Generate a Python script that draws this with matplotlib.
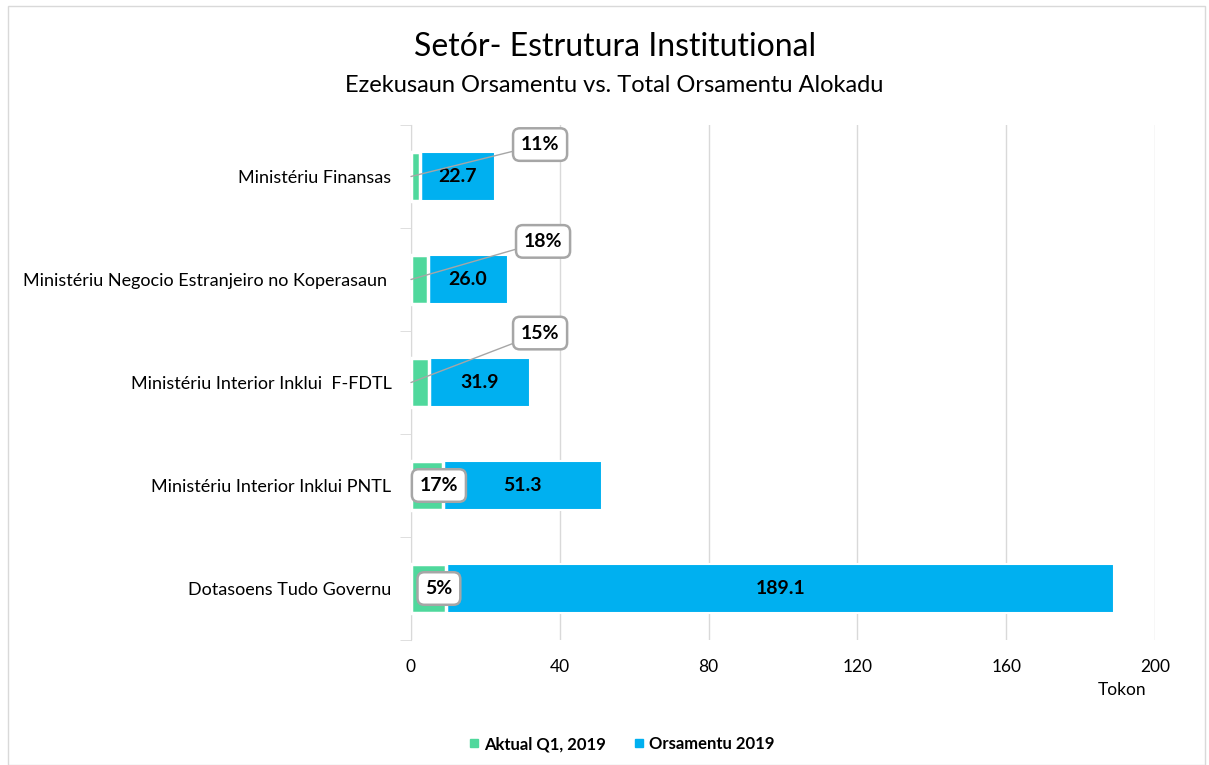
import matplotlib

matplotlib.use("Agg")

import matplotlib.pyplot as plt
from matplotlib.patches import Rectangle

plt.rcParams["font.family"] = ["Lato", "DejaVu Sans"]

CATEGORIES = [
    "Ministériu Finansas",
    "Ministériu Negocio Estranjeiro no Koperasaun ",
    "Ministériu Interior Inklui  F-FDTL",
    "Ministériu Interior Inklui PNTL",
    "Dotasoens Tudo Governu",
]
BUDGET = [22.7, 26.0, 31.9, 51.3, 189.1]
ACTUAL = [2.5, 4.7, 4.8, 8.7, 9.5]
X_TICKS = [0, 40, 80, 120, 160, 200]

GREEN = "#4FD89C"
BLUE = "#00B0F0"
GRID = "#D9D9D9"

fig = plt.figure(figsize=(12.09, 7.65), dpi=100)
ax = fig.add_axes([411 / 1209, 1 - 640 / 765, 744 / 1209, 515 / 765])

y = list(range(len(CATEGORIES)))
ax.barh(y, BUDGET, height=0.47, color=BLUE, edgecolor="white", linewidth=1.5, zorder=2)
ax.barh(y, ACTUAL, height=0.47, color=GREEN, edgecolor="white", linewidth=2.5, zorder=3)

ax.set_xlim(0, 200)
ax.set_ylim(len(CATEGORIES) - 0.5, -0.5)
ax.set_xticks(X_TICKS)
ax.set_xticklabels([str(t) for t in X_TICKS], fontsize=12.5)
ax.set_yticks(y)
ax.set_yticklabels(CATEGORIES, fontsize=13)
ax.set_yticks([i - 0.5 for i in range(len(CATEGORIES) + 1)], minor=True)
ax.tick_params(axis="y", which="major", length=0, pad=14)
ax.tick_params(axis="y", which="minor", length=8, color=GRID)
ax.tick_params(axis="x", length=0, pad=14)
ax.grid(axis="x", color=GRID, linewidth=1, zorder=0)
for side in ["top", "right", "bottom"]:
    ax.spines[side].set_visible(False)
ax.spines["left"].set_color(GRID)

# value labels in the blue segment
for i, (act, tot) in enumerate(zip(ACTUAL, BUDGET)):
    ax.text((act + tot) / 2, i, f"{tot:.1f}", ha="center", va="center",
            fontsize=14, fontweight="bold", color="black", zorder=5)

# percentage callouts
box_style = dict(boxstyle="round,pad=0.4,rounding_size=0.35", fc="white", ec="#A6A6A6", lw=1.8)
callout_pos = [(34.7, -0.31), (35.5, -0.37), (34.7, -0.48)]
for i, (act, tot) in enumerate(zip(ACTUAL, BUDGET)):
    label = f"{act / tot * 100:.0f}%"
    if i < len(callout_pos):
        bx, dy = callout_pos[i]
        ax.annotate(label, xy=(0, i), xytext=(bx, i + dy), ha="center", va="center",
                    fontsize=14, fontweight="bold", bbox=box_style, zorder=6,
                    arrowprops=dict(arrowstyle="-", color="#A6A6A6", lw=1, shrinkA=0, shrinkB=0),
                    annotation_clip=False)
    else:
        ax.text(7.5, i, label, ha="center", va="center", fontsize=14,
                fontweight="bold", bbox=box_style, zorder=6)

fig.text(1122 / 1209, 1 - 690 / 765, "Tokon", ha="center", va="center", fontsize=12.5)
fig.text(615 / 1209, 1 - 47 / 765, "Setór- Estrutura Institutional", ha="center",
         va="center", fontsize=23)
fig.text(614 / 1209, 1 - 86 / 765, "Ezekusaun Orsamentu vs. Total Orsamentu Alokadu",
         ha="center", va="center", fontsize=17)

handles = [
    plt.Line2D([], [], marker="s", linestyle="none", color=GREEN, markersize=6),
    plt.Line2D([], [], marker="s", linestyle="none", color=BLUE, markersize=6),
]
fig.legend(handles, ["Aktual Q1, 2019", "Orsamentu 2019"], loc="center",
           bbox_to_anchor=(621 / 1209, 1 - 744 / 765), ncols=2, frameon=False,
           prop=dict(size=12, weight="bold"), handlelength=0.8, handletextpad=0.2,
           columnspacing=1.6)

fig.patches.append(Rectangle((8 / 1209, 0.0), 1 - 12 / 1209, 1 - 6 / 765,
                             transform=fig.transFigure, fill=False,
                             ec="#D9D9D9", lw=1))

fig.savefig("out.png", dpi=100)
